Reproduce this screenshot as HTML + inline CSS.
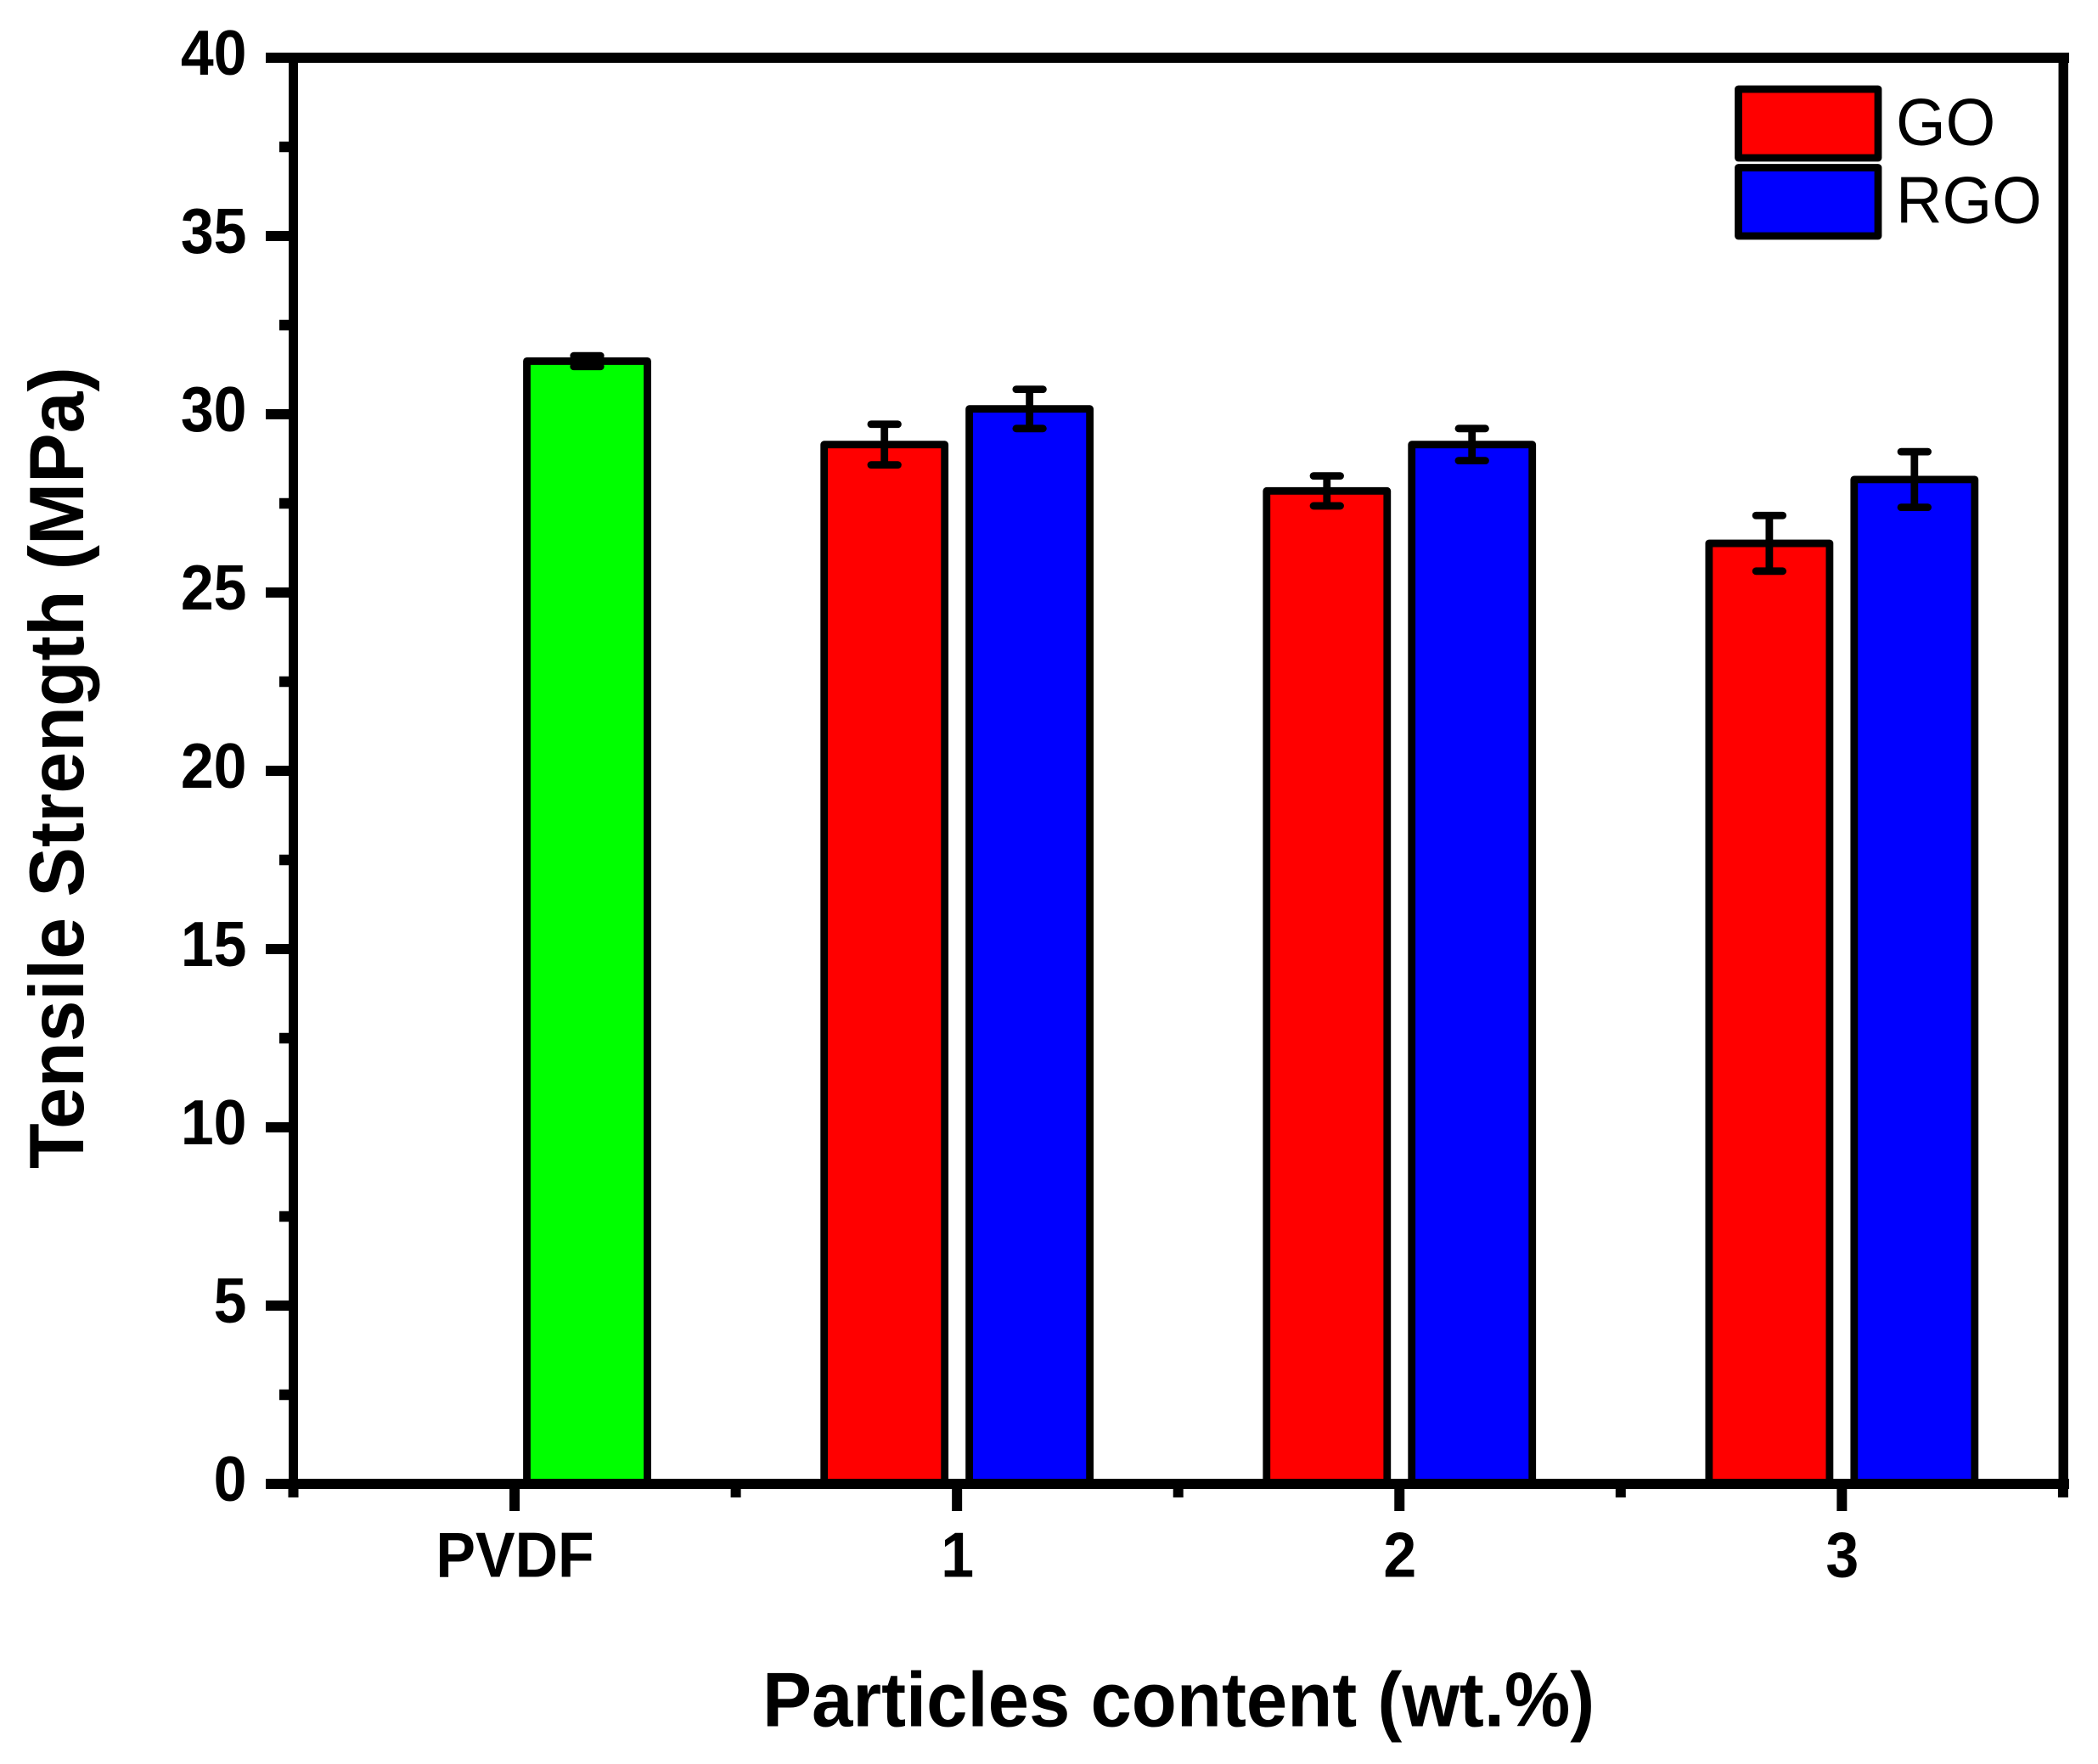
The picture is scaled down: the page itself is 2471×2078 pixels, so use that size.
<!DOCTYPE html>
<html lang="en">
<head>
<meta charset="utf-8">
<title>Tensile Strength vs Particles content</title>
<style>
html,body{margin:0;padding:0;background:#fff;}
svg{display:block;}
text{font-family:"Liberation Sans",Arial,sans-serif;fill:#000;}
</style>
</head>
<body>
<svg id="chart" xmlns="http://www.w3.org/2000/svg" width="2471" height="2078" viewBox="0 0 2471 2078">
  <rect x="0" y="0" width="2471" height="2078" fill="#fff"/>
  <g id="bars"></g>
  <g id="errors"></g>
  <g id="axes"></g>
  <g id="ticklabels"></g>
  <text transform="translate(98,1377) rotate(-90) scale(.965,1)" font-size="91" font-weight="700">Tensile Strength (MPa)</text>
  <text transform="translate(898,2033.5) scale(.955,1)" font-size="91" font-weight="700">Particles content (wt.%)</text>
  <g>
    <g>
      <rect x="2047.5" y="105" width="164.5" height="81" fill="#ff0000" stroke="#000" stroke-width="8.8" stroke-linejoin="round"/>
      <text transform="translate(2233,170.5) scale(.973,1)" font-size="77.5">GO</text>
    </g>
    <g>
      <rect x="2047.5" y="197.5" width="164.5" height="80.5" fill="#0000ff" stroke="#000" stroke-width="8.8" stroke-linejoin="round"/>
      <text transform="translate(2233,262.3) scale(.973,1)" font-size="77.5">RGO</text>
    </g>
  </g>
</svg>
<script>
const categories = ['PVDF', '1', '2', '3'];
const pvdfValues = [31.49, null, null, null];
const pvdfErrors = [0.15, null, null, null];
const goValues = [null, 29.15, 27.85, 26.38];
const goErrors = [null, 0.57, 0.42, 0.78];
const rgoValues = [null, 30.15, 29.15, 28.17];
const rgoErrors = [null, 0.55, 0.45, 0.78];
const yMajorTicks = [0, 5, 10, 15, 20, 25, 30, 35, 40];
const yTickLabels = ['0', '5', '10', '15', '20', '25', '30', '35', '40'];
const yMinorTicks = [2.5, 7.5, 12.5, 17.5, 22.5, 27.5, 32.5, 37.5];
const xMinorTicks = [-0.5, 0.5, 1.5, 2.5, 3.5];

const NS = 'http://www.w3.org/2000/svg';
const xScale = function (c) { return 345.5 + (c + 0.5) * 521.1; };
const yScale = function (v) { return 1748 - 42 * v; };
const slotOffset = 0.164;
const barWidth = 142;
const capWidth = 31.5;
const strokeW = 8.8;

function mk(tag, parentId, attrs) {
  const el = document.createElementNS(NS, tag);
  for (const k in attrs) el.setAttribute(k, attrs[k]);
  document.getElementById(parentId).appendChild(el);
  return el;
}

function drawSeries(values, errors, slot, color, label) {
  values.forEach(function (v, i) {
    if (v === null) return;
    const cx = xScale(i + slot * slotOffset);
    const bar = mk('rect', 'bars', {
      x: cx - barWidth / 2, y: yScale(v), width: barWidth, height: yScale(0) - yScale(v),
      fill: color, stroke: '#000', 'stroke-width': strokeW, 'stroke-linejoin': 'round'
    });
    
    
    const hi = yScale(v + errors[i]);
    const lo = yScale(v - errors[i]);
    const stem = mk('line', 'errors', { x1: cx, x2: cx, y1: hi, y2: lo, stroke: '#000', 'stroke-width': strokeW });
    
    
    [hi, lo].forEach(function (yy) {
      const cap = mk('line', 'errors', {
        x1: cx - capWidth / 2, x2: cx + capWidth / 2, y1: yy, y2: yy,
        stroke: '#000', 'stroke-width': strokeW, 'stroke-linecap': 'round'
      });
      
      
    });
  });
}

drawSeries(pvdfValues, pvdfErrors, 1, '#00ff00', 'pvdf');
drawSeries(goValues, goErrors, -1, '#ff0000', 'go');
drawSeries(rgoValues, rgoErrors, 1, '#0000ff', 'rgo');

function block(x, y, w, h, name) {
  const r = mk('rect', 'axes', { x: x, y: y, width: w, height: h, fill: '#000' });
  
  
}

block(313, yScale(40) - 6, 2124, 12, 'top-axis-line');
block(313, yScale(0) - 6, 2124, 12, 'x-axis-line');
block(340, yScale(40) - 6, 11, 1680 + 12, 'y-axis-line');
block(2424.5, yScale(40) - 6, 11.5, 1680 + 12, 'right-axis-line');

yMajorTicks.forEach(function (v, i) {
  block(313, yScale(v) - 6, 27, 12, 'y-major-tick');
  const t = mk('text', 'ticklabels', {
    transform: 'translate(290.5,' + (yScale(v) + 20) + ') scale(.925,1)',
    'font-size': 75.5, 'font-weight': 700, 'text-anchor': 'end'
  });
  t.textContent = yTickLabels[i];
  
  
});

yMinorTicks.forEach(function (v) {
  block(329, yScale(v) - 6.25, 11, 12.5, 'y-minor-tick');
});

categories.forEach(function (c, i) {
  block(xScale(i) - 6, 1754, 12, 26, 'x-major-tick');
  const t = mk('text', 'ticklabels', {
    transform: 'translate(' + (xScale(i) + 0.5) + ',1857.7) scale(.925,1)',
    'font-size': 75.5, 'font-weight': 700, 'text-anchor': 'middle'
  });
  t.textContent = c;
  
  
});

xMinorTicks.forEach(function (c) {
  block(xScale(c) - 6, 1754, 12, 10, 'x-minor-tick');
});
</script>
</body>
</html>
